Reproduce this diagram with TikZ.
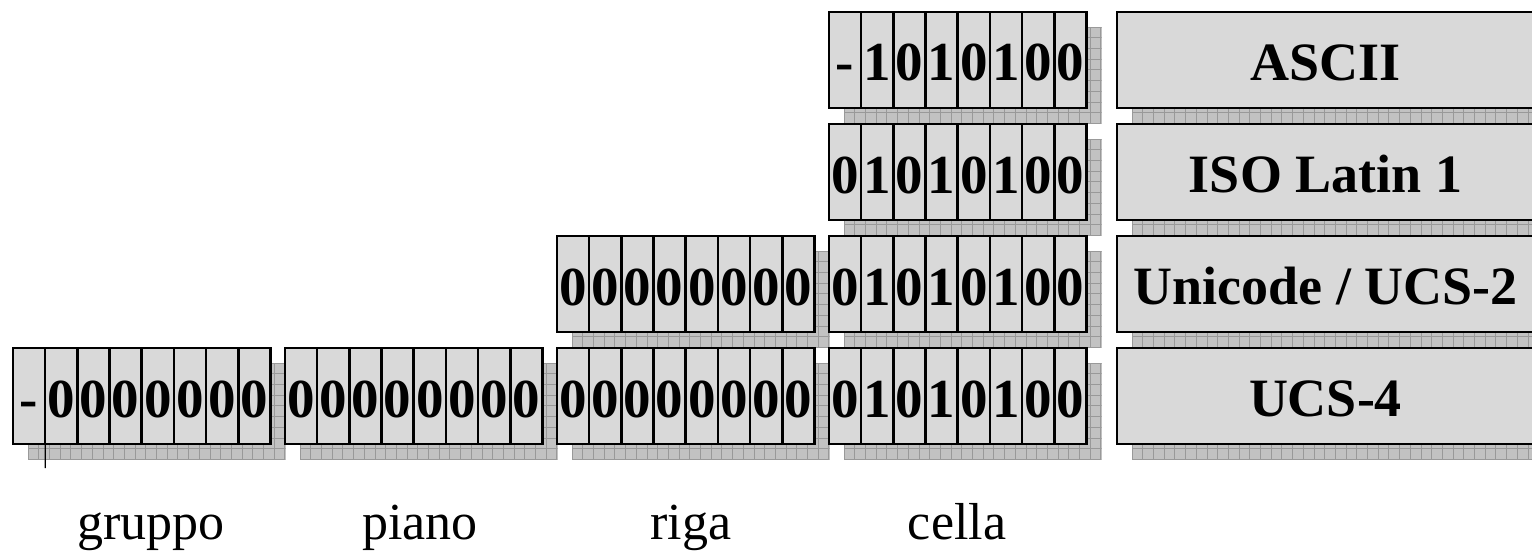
\documentclass[tikz,border=0pt]{standalone}
\usepackage{fontspec}
\setmainfont{Liberation Serif}
\definecolor{boxfill}{gray}{0.85}
\definecolor{shadowfill}{gray}{0.76}
\definecolor{shadowline}{gray}{0.60}
\newcommand{\bitfont}{\fontsize{55}{60}\selectfont\bfseries}
\newcommand{\lblfont}{\fontsize{54}{60}\selectfont\bfseries}
\newcommand{\capfont}{\fontsize{52}{58}\selectfont}
\tikzset{
  cellbox/.style={draw=black, line width=2.6pt, fill=boxfill, minimum width=32.19pt,
    minimum height=96pt, inner sep=0pt, outer sep=0pt, anchor=north west,
    font=\bitfont, text height=42pt, text depth=0pt},
  lblbox/.style={draw=black, line width=2.6pt, fill=boxfill, minimum width=417pt,
    minimum height=96pt, inner sep=0pt, outer sep=0pt, anchor=north west,
    font=\lblfont, text height=41.5pt, text depth=0pt},
  caption/.style={font=\capfont, anchor=base, inner sep=0pt},
  shadowgrid/.style={draw=shadowline, line width=0.7pt},
  tickline/.style={draw=black, line width=1.2pt}
}
% shadow: #1 x, #2 y, #3 width
\newcommand{\dropshadow}[3]{%
  \fill[shadowfill] (#1+15,#2+15) rectangle (#1+15+#3,#2+111);
  \begin{scope}
    \clip (#1+15,#2+15) rectangle (#1+15+#3,#2+111);
    \foreach \k in {0,...,40} {\draw[shadowgrid] ({#1+15+\k*10.7},#2+15) -- ({#1+15+\k*10.7},#2+111);}
    \foreach \k in {0,...,9} {\draw[shadowgrid] (#1+15,{#2+15+\k*10.7}) -- (#1+15+#3,{#2+15+\k*10.7});}
  \end{scope}}
% bit group: #1 name, #2 x, #3 y, #4 eight characters
\newcommand{\bitgroup}[4]{%
  \dropshadow{#2}{#3}{257.5}
  \foreach \c [count=\i] in {#4} {\node[cellbox] (#1-\i) at ({#2+(\i-1)*32.19},#3) {\c};}}
\begin{document}
\begin{tikzpicture}[x=1pt,y=-1pt]
\useasboundingbox (0,0) rectangle (1532,551);
\clip (0,0) rectangle (1532,551);
% row 1: ASCII
\bitgroup{r1g4}{829}{12}{-,1,0,1,0,1,0,0}
\dropshadow{1117}{12}{417}
\node[lblbox] (ascii) at (1117,12) {ASCII};
% row 2: ISO Latin 1
\bitgroup{r2g4}{829}{124}{0,1,0,1,0,1,0,0}
\dropshadow{1117}{124}{417}
\node[lblbox] (latin) at (1117,124) {ISO Latin 1};
% row 3: Unicode / UCS-2
\bitgroup{r3g3}{557}{236}{0,0,0,0,0,0,0,0}
\bitgroup{r3g4}{829}{236}{0,1,0,1,0,1,0,0}
\dropshadow{1117}{236}{417}
\node[lblbox] (unicode) at (1117,236) {Unicode / UCS-2};
% row 4: UCS-4
\bitgroup{r4g1}{13}{348}{-,0,0,0,0,0,0,0}
\bitgroup{r4g2}{285}{348}{0,0,0,0,0,0,0,0}
\bitgroup{r4g3}{557}{348}{0,0,0,0,0,0,0,0}
\bitgroup{r4g4}{829}{348}{0,1,0,1,0,1,0,0}
\dropshadow{1117}{348}{417}
\node[lblbox] (ucs4) at (1117,348) {UCS-4};
% tick below first group
\coordinate (tickend) at (45.2,468);
\draw[tickline] (r4g1-1.south east) -- (tickend);
% captions
\node[caption] (gruppo) at (151,539) {gruppo};
\node[caption] (piano) at (420,539) {piano};
\node[caption] (riga) at (691,539) {riga};
\node[caption] (cella) at (957,539) {cella};
\end{tikzpicture}
\end{document}
